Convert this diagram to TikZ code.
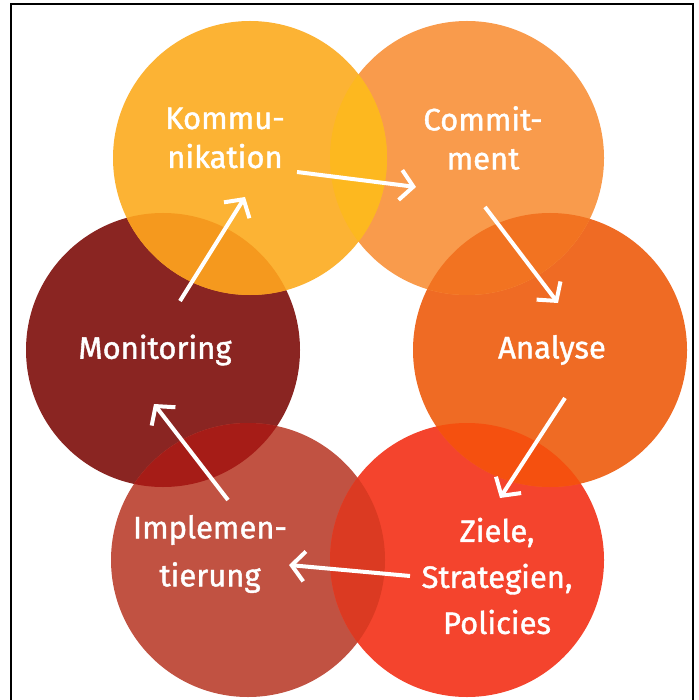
\documentclass[tikz,border=0pt]{standalone}
\usepackage{fontspec}
\setmainfont{Fira Sans}
\newfontfamily\lblfont{Fira Sans}[FakeBold=1.3]
\usetikzlibrary{arrows.meta}
\definecolor{cK}{HTML}{FCB334}
\definecolor{cC}{HTML}{F99B4C}
\definecolor{cA}{HTML}{EF6B24}
\definecolor{cZ}{HTML}{F4442D}
\definecolor{cI}{HTML}{C15242}
\definecolor{cM}{HTML}{8A2522}
\definecolor{oKC}{HTML}{FDB81F}
\definecolor{oKM}{HTML}{F5991E}
\definecolor{oCA}{HTML}{F27321}
\definecolor{oAZ}{HTML}{F5500F}
\definecolor{oZI}{HTML}{DB3A22}
\definecolor{oIM}{HTML}{A61C17}
\tikzset{
  lbl/.style={text=white, font=\lblfont\fontsize{31}{38}\selectfont, align=center, inner sep=0pt},
  flow/.style={draw=white, line width=4pt, -{Straight Barb[length=13pt,width=30pt]}},
}
\newcommand{\rad}{137}
\begin{document}
\begin{tikzpicture}[x=1pt,y=-1pt]
\useasboundingbox (0,0) rectangle (698,700);
\fill[white] (0,0) rectangle (698,700);
\draw[line width=1.6pt] (11,701) -- (11,4) -- (693,4) -- (693,701);
% circle centres
\coordinate (K) at (250,158);
\coordinate (C) at (467,158);
\coordinate (A) at (550,350);
\coordinate (Z) at (467,560);
\coordinate (I) at (248,560);
\coordinate (M) at (163,350);
% circles
\fill[cM] (M) circle[radius=\rad];
\fill[cI] (I) circle[radius=\rad];
\fill[cZ] (Z) circle[radius=\rad];
\fill[cA] (A) circle[radius=\rad];
\fill[cC] (C) circle[radius=\rad];
\fill[cK] (K) circle[radius=\rad];
% overlaps
\begin{scope}\clip (K) circle[radius=\rad]; \fill[oKC] (C) circle[radius=\rad];\end{scope}
\begin{scope}\clip (K) circle[radius=\rad]; \fill[oKM] (M) circle[radius=\rad];\end{scope}
\begin{scope}\clip (C) circle[radius=\rad]; \fill[oCA] (A) circle[radius=\rad];\end{scope}
\begin{scope}\clip (A) circle[radius=\rad]; \fill[oAZ] (Z) circle[radius=\rad];\end{scope}
\begin{scope}\clip (Z) circle[radius=\rad]; \fill[oZI] (I) circle[radius=\rad];\end{scope}
\begin{scope}\clip (I) circle[radius=\rad]; \fill[oIM] (M) circle[radius=\rad];\end{scope}
% labels
\node[lbl, font=\lblfont\fontsize{31}{39}\selectfont] (tK) at (225,138) {Kommu-\\nikation};
\node[lbl, font=\lblfont\fontsize{31}{39}\selectfont] (tC) at (483,138) {Commit-\\ment};
\node[lbl] (tM) at (155,350) {Monitoring};
\node[lbl] (tA) at (552,350) {Analyse};
\node[lbl, font=\lblfont\fontsize{31}{46}\selectfont] (tZ) at (497,576) {Ziele,\\Strategien,\\Policies};
\node[lbl, font=\lblfont\fontsize{31}{48}\selectfont] (tI) at (210,554) {Implemen-\\tierung};
% arrow end points
\coordinate (a1s) at (297,172); \coordinate (a1e) at (416,187);
\coordinate (a2s) at (485,207); \coordinate (a2e) at (558,303);
\coordinate (a3s) at (565,398); \coordinate (a3e) at (500,498);
\coordinate (a4s) at (410,576); \coordinate (a4e) at (289,565);
\coordinate (a5s) at (228,500); \coordinate (a5e) at (154,404);
\coordinate (a6s) at (180,301); \coordinate (a6e) at (245,197);
\draw[flow] (a1s) -- (a1e);
\draw[flow] (a2s) -- (a2e);
\draw[flow] (a3s) -- (a3e);
\draw[flow] (a4s) -- (a4e);
\draw[flow] (a5s) -- (a5e);
\draw[flow] (a6s) -- (a6e);
\end{tikzpicture}
\end{document}
